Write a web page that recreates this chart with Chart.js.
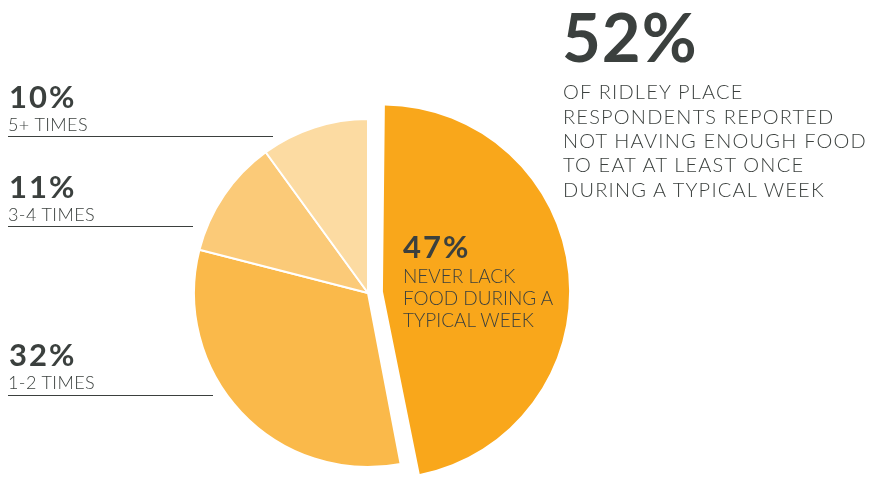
<!DOCTYPE html>
<html>
<head>
<meta charset="utf-8">
<script src="https://cdn.jsdelivr.net/npm/chart.js@4"></script>
<style>
  body { margin: 0; background: #fff; }
  #wrap { position: relative; width: 870px; height: 479px; overflow: hidden; font-family: Lato, "Open Sans", sans-serif; color: #3b403e; }
  #pie { position: absolute; left: 0; top: 0; }
  .t { position: absolute; white-space: nowrap; }
  .rule { position: absolute; height: 0; border-top: 1.5px solid #3b403e; }
</style>
</head>
<body>
<div id="wrap">
  <canvas id="pie" width="870" height="520"></canvas>
</div>
<script>
const categories = ['NEVER LACK FOOD DURING A TYPICAL WEEK', '1-2 TIMES', '3-4 TIMES', '5+ TIMES'];
const shares = [47, 32, 11, 10];
const sliceColors = ['#f9a71b', '#fab94a', '#fbca78', '#fcdba2'];
const headline = '52%';
const headlineText = ['OF RIDLEY PLACE', 'RESPONDENTS REPORTED', 'NOT HAVING ENOUGH FOOD', 'TO EAT AT LEAST ONCE', 'DURING A TYPICAL WEEK'];
const neverText = ['NEVER LACK', 'FOOD DURING A', 'TYPICAL WEEK'];

const wrap = document.getElementById('wrap');

// place a line of text by its baseline (Lato: baseline sits at 0.887em with line-height 1)
function addText(str, x, baseline, size, weight, spacing) {
    const d = document.createElement('div');
    d.className = 't';
    d.textContent = str;
    d.style.left = x + 'px';
    d.style.top = (baseline - 0.887 * size) + 'px';
    d.style.fontSize = size + 'px';
    d.style.lineHeight = size + 'px';
    d.style.fontWeight = weight;
    d.style.letterSpacing = (spacing || 0) + 'px';
    wrap.appendChild(d);
}

function addRule(x, y, w) {
    const d = document.createElement('div');
    d.className = 'rule';
    d.style.left = x + 'px';
    d.style.top = y + 'px';
    d.style.width = w + 'px';
    wrap.appendChild(d);
}

// right hand headline
addText(headline, 562, 62, 67, 700, 1);
headlineText.forEach((s, i) => addText(s, 563, 99 + i * 24.4, 20, 300, 1.2));

// label inside the big slice
addText(shares[0] + '%', 403, 258, 31, 700, 2);
neverText.forEach((s, i) => addText(s, 403, 283 + i * 21.7, 19, 300));

// left labels with rules
const leftLabels = [
    { idx: 3, base: 108, rule: 136, len: 265 },
    { idx: 2, base: 198, rule: 226, len: 185 },
    { idx: 1, base: 366, rule: 395, len: 205 }
];
leftLabels.forEach(l => {
    addText(shares[l.idx] + '%', 9, l.base, 31, 700, 2);
    addText(categories[l.idx], 8, l.base + 23, 18, 300, 0.4);
    addRule(8, l.rule, l.len);
});

const ctx = document.getElementById('pie');

// offset pushes the slice out by offset/4 and also grows its radius by that much
const pieChart = new Chart(ctx, {
    type: 'pie',
    data: {
        labels: categories,
        datasets: [{
            data: shares,
            backgroundColor: sliceColors,
            borderColor: '#ffffff',
            borderWidth: [0, 2, 2, 2],
            offset: [60, 0, 0, 0],
            clip: false
        }]
    },
    options: {
        responsive: false,
        animation: false,
        events: [],
        layout: {
            padding: { left: 163, right: 297, top: 88, bottom: 22 }
        },
        plugins: {
            legend: { display: false },
            tooltip: { enabled: false }
        }
    }
});
</script>
</body>
</html>
